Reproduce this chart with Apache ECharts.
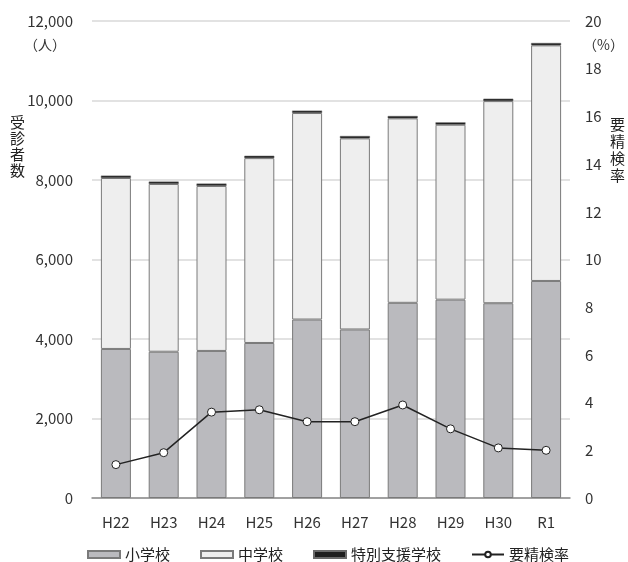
<!DOCTYPE html>
<html>
<head>
<meta charset="utf-8">
<script src="https://cdn.jsdelivr.net/npm/echarts@6/dist/echarts.min.js"></script>
<style>
  html, body { margin: 0; padding: 0; background: #fff; }
  #chart { width: 628px; height: 562px; }
</style>
</head>
<body>
<div id="chart"></div>
<script>
// 年度
const years = ['H22', 'H23', 'H24', 'H25', 'H26', 'H27', 'H28', 'H29', 'H30', 'R1'];
// 受診者数（人）
const elementary = [3750, 3680, 3700, 3900, 4490, 4240, 4910, 4990, 4900, 5460];
const juniorHigh = [4300, 4220, 4150, 4650, 5195, 4807, 4640, 4400, 5085, 5927];
const specialNeeds = [60, 60, 60, 60, 60, 60, 60, 60, 60, 60];
// 要精検率（%）
const recheckRate = [1.4, 1.9, 3.6, 3.7, 3.2, 3.2, 3.9, 2.9, 2.1, 2.0];

const FONT = '"Noto Sans CJK JP", "Noto Sans", sans-serif';
const chart = echarts.init(document.getElementById('chart'), null, { renderer: 'canvas' });

chart.setOption({
  animation: false,
  textStyle: { fontFamily: FONT },
  grid: { left: 92, right: 58, top: 21, bottom: 64, containLabel: false },
  legend: {
    left: 82,
    top: 542,
    itemGap: 30,
    itemWidth: 32,
    itemHeight: 7,
    textStyle: { fontSize: 15, color: '#222', fontFamily: FONT },
    data: [
      { name: '小学校', icon: 'rect' },
      { name: '中学校', icon: 'rect' },
      { name: '特別支援学校', icon: 'rect' },
      { name: '要精検率' }
    ]
  },
  xAxis: {
    type: 'category',
    data: years,
    axisLine: { lineStyle: { color: '#8c8c8c', width: 1.5 } },
    axisTick: { show: false },
    axisLabel: { color: '#333', fontSize: 15, margin: 17, fontFamily: FONT }
  },
  yAxis: [
    {
      type: 'value',
      min: 0, max: 12000, interval: 2000,
      axisLine: { show: false },
      axisTick: { show: false },
      splitLine: { lineStyle: { color: '#d9d9d9', width: 1.5 } },
      axisLabel: {
        color: '#333', fontSize: 15, margin: 19, fontFamily: FONT,
        formatter: v => v.toLocaleString('en-US')
      }
    },
    {
      type: 'value',
      min: 0, max: 20, interval: 2,
      axisLine: { show: false },
      axisTick: { show: false },
      splitLine: { show: false },
      axisLabel: { color: '#333', fontSize: 15, margin: 15, fontFamily: FONT }
    }
  ],
  series: [
    {
      name: '小学校', type: 'bar', stack: 'total', barWidth: 30,
      data: elementary,
      itemStyle: { color: '#bababe', borderColor: '#7a7a7a', borderWidth: 1 }
    },
    {
      name: '中学校', type: 'bar', stack: 'total', barWidth: 30,
      data: juniorHigh,
      itemStyle: { color: '#eeeeee', borderColor: '#7a7a7a', borderWidth: 1 }
    },
    {
      name: '特別支援学校', type: 'bar', stack: 'total', barWidth: 30,
      data: specialNeeds,
      itemStyle: { color: '#1e1e1e', borderColor: '#6a6a6a', borderWidth: 0.5 }
    },
    {
      name: '要精検率', type: 'line', yAxisIndex: 1,
      data: recheckRate,
      symbol: 'circle', symbolSize: 8,
      lineStyle: { color: '#222', width: 1.5 },
      itemStyle: { color: '#fff', borderColor: '#222', borderWidth: 1 },
      z: 5
    }
  ],
  graphic: [
    { type: 'text', left: 24, top: 38, style: { text: '（人）', font: '14px ' + FONT, fill: '#333' } },
    { type: 'text', left: 10, top: 114, style: { text: '受\n診\n者\n数', font: '15px ' + FONT, lineHeight: 16, fill: '#222' } },
    { type: 'text', left: 583, top: 38, style: { text: '（%）', font: '14px ' + FONT, fill: '#333' } },
    { type: 'text', left: 610, top: 116, style: { text: '要\n精\n検\n率', font: '15px ' + FONT, lineHeight: 17, fill: '#222' } }
  ]
});
</script>
</body>
</html>
